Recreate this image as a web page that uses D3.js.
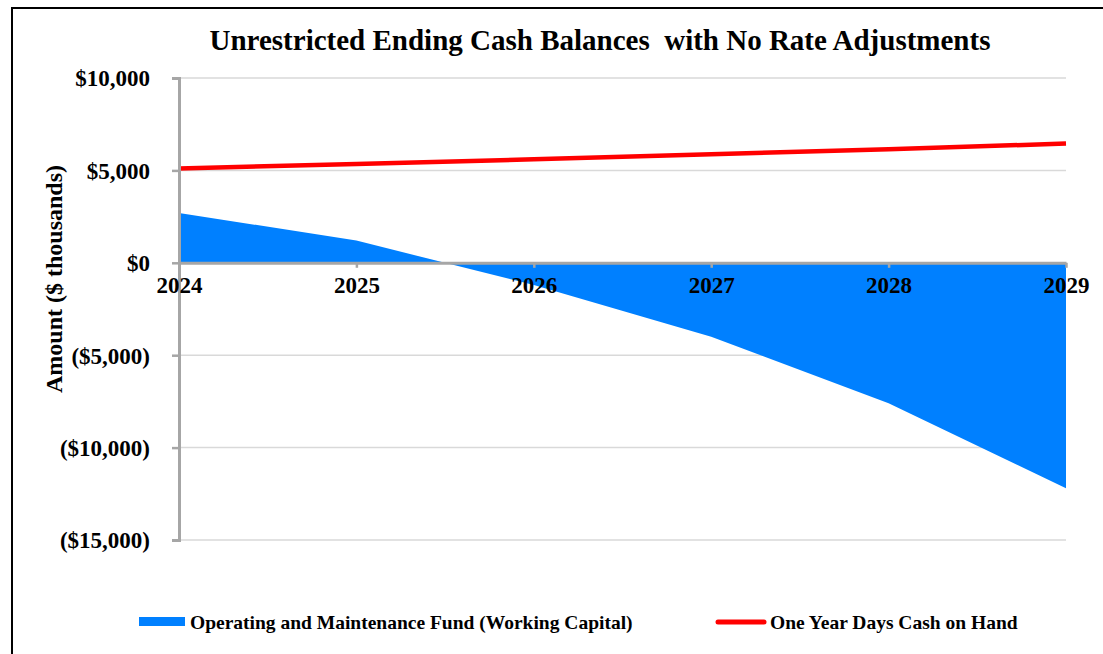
<!DOCTYPE html>
<html lang="en">
<head>
  <meta charset="UTF-8">
  <title>Unrestricted Ending Cash Balances</title>
  <script src="https://d3js.org/d3.v7.min.js"></script>
  <style>
    body { margin: 0; background: #fff; }
    svg text { font-family: "Liberation Serif", "Times New Roman", serif; font-weight: bold; fill: #000; }
  </style>
</head>
<body>
<div id="chart"></div>
<script>
// chart data
var years = ["2024", "2025", "2026", "2027", "2028", "2029"];
var omFund = [2700, 1200, -1200, -4000, -7600, -12200];      // Operating and Maintenance Fund (Working Capital)
var cashOnHand = [5100, 5350, 5600, 5870, 6150, 6450];       // One Year Days Cash on Hand
var yTicks = [10000, 5000, 0, -5000, -10000, -15000];
var seriesNames = ["Operating and Maintenance Fund (Working Capital)", "One Year Days Cash on Hand"];

var W = 1103, H = 654;
var margin = {top: 78, right: 37, bottom: 114, left: 179};

var svg = d3.select("#chart").append("svg")
    .attr("width", W)
    .attr("height", H);

// outer frame
svg.append("rect")
    .attr("x", 12).attr("y", 8)
    .attr("width", W + 20).attr("height", H + 20)
    .attr("fill", "none")
    .attr("stroke", "#000")
    .attr("stroke-width", 2);

var x = d3.scalePoint().domain(years).range([margin.left, W - margin.right]);
var y = d3.scaleLinear().domain([-15000, 10000]).range([H - margin.bottom, margin.top]);

// gridlines
svg.append("g").selectAll("line")
    .data(yTicks.filter(function(d) { return d !== 0; }))
    .enter().append("line")
    .attr("x1", x.range()[0]).attr("x2", x.range()[1])
    .attr("y1", function(d) { return y(d); })
    .attr("y2", function(d) { return y(d); })
    .attr("stroke", "#d9d9d9")
    .attr("stroke-width", 1.5);

// blue area
var area = d3.area()
    .x(function(d, i) { return x(years[i]); })
    .y0(y(0))
    .y1(function(d) { return y(d); });

svg.append("path")
    .datum(omFund)
    .attr("d", area)
    .attr("fill", "#0080ff");

// red line
var line = d3.line()
    .x(function(d, i) { return x(years[i]); })
    .y(function(d) { return y(d); });

svg.append("path")
    .datum(cashOnHand)
    .attr("d", line)
    .attr("fill", "none")
    .attr("stroke", "#ff0000")
    .attr("stroke-width", 4.5);

// y axis
var yAxis = svg.append("g")
    .attr("transform", "translate(" + margin.left + ",0)")
    .call(d3.axisLeft(y).tickValues(yTicks).tickSize(7).tickPadding(22)
      .tickFormat(function(d) {
        var s = "$" + d3.format(",")(Math.abs(d));
        return d < 0 ? "(" + s + ")" : s;
      }));
yAxis.selectAll("path").attr("stroke", "#a6a6a6").attr("stroke-width", 3);
yAxis.selectAll("line").attr("stroke", "#a6a6a6").attr("stroke-width", 2.5);
yAxis.selectAll("text").style("font-size", "23px").attr("dy", "0.34em");

// x axis on zero line
var xAxis = svg.append("g")
    .attr("transform", "translate(0," + y(0) + ")")
    .call(d3.axisBottom(x).tickSize(5).tickSizeOuter(0).tickPadding(9));
xAxis.select(".domain").attr("stroke", "#a6a6a6").attr("stroke-width", 3);
xAxis.selectAll("line").attr("stroke", "#a6a6a6").attr("stroke-width", 2.5);
xAxis.selectAll("text").style("font-size", "23px");

// title
svg.append("text")
    .attr("x", 600).attr("y", 50)
    .attr("text-anchor", "middle")
    .style("font-size", "29px")
    .style("white-space", "pre")
    .text("Unrestricted Ending Cash Balances  with No Rate Adjustments");

// y axis title
svg.append("text")
    .attr("transform", "translate(62,279) rotate(-90)")
    .attr("text-anchor", "middle")
    .style("font-size", "24px")
    .text("Amount ($ thousands)");

// legend
var lg = svg.append("g");
lg.append("rect")
    .attr("x", 139).attr("y", 617)
    .attr("width", 46).attr("height", 9)
    .attr("fill", "#0080ff");
lg.append("text")
    .attr("x", 190).attr("y", 629)
    .style("font-size", "19.5px")
    .text(seriesNames[0]);
lg.append("line")
    .attr("x1", 718).attr("x2", 764)
    .attr("y1", 622).attr("y2", 622)
    .attr("stroke", "#ff0000")
    .attr("stroke-width", 5)
    .attr("stroke-linecap", "round");
lg.append("text")
    .attr("x", 770).attr("y", 629)
    .style("font-size", "19.5px")
    .text(seriesNames[1]);
</script>
</body>
</html>
